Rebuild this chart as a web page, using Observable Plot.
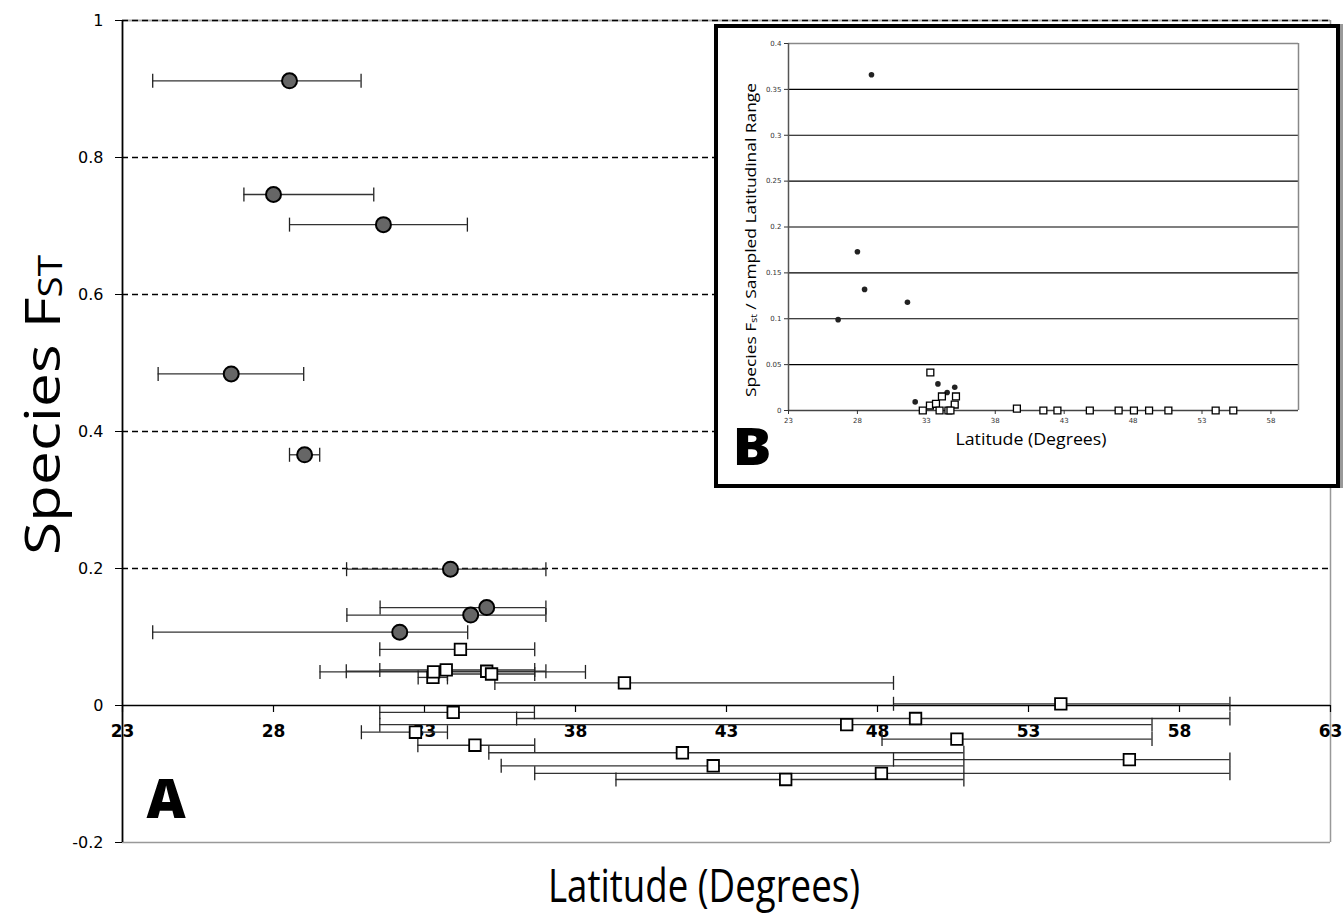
<!DOCTYPE html>
<html><head><meta charset="utf-8">
<script src="https://cdn.jsdelivr.net/npm/d3@7"></script>
<script src="https://cdn.jsdelivr.net/npm/@observablehq/plot@0.6"></script>
<style>
body{margin:0;background:#fff;}
#wrap{position:relative;width:1344px;height:918px;overflow:hidden;background:#fff;}
#main{position:absolute;left:0;top:0;}
#inset{position:absolute;left:714px;top:24px;width:626px;height:464px;box-sizing:border-box;border:4px solid #000;background:#fff;box-shadow:3px 0 0 #999;}
#inset svg{position:absolute;left:0;top:0;}
</style></head><body>
<div id="wrap"><div id="main"></div><div id="inset"></div></div>
<script>
// ---- Panel A data ----
const circleLat = [28.53, 28.0, 31.64, 26.6, 29.03, 33.86, 35.06, 34.53, 32.18];
const circleFst = [0.912, 0.746, 0.702, 0.484, 0.366, 0.199, 0.143, 0.132, 0.107];
const circleLo  = [24.0, 27.02, 28.53, 24.18, 28.53, 30.42, 31.53, 30.43, 24.0];
const circleHi  = [30.9, 31.32, 34.42, 29.0, 29.53, 37.02, 37.02, 37.02, 34.43];

const squareLat = [34.19, 33.28, 33.30, 33.72, 35.06, 35.22, 39.62, 54.07, 33.95, 49.26, 46.98, 32.70, 50.63, 34.67, 41.54, 56.34, 42.56, 48.13, 44.96];
const squareFst = [0.082, 0.041, 0.049, 0.052, 0.050, 0.046, 0.033, 0.0025, -0.010, -0.019, -0.028, -0.039, -0.049, -0.058, -0.069, -0.079, -0.088, -0.099, -0.108];
const squareLo  = [31.52, 32.79, 29.54, 31.52, 30.41, 33.76, 35.33, 48.53, 31.52, 36.05, 31.52, 30.91, 48.15, 32.78, 35.13, 48.53, 35.54, 36.65, 39.34];
const squareHi  = [36.65, 33.76, 38.33, 36.65, 37.02, 36.65, 48.53, 59.67, 36.64, 59.67, 57.09, 33.76, 57.09, 36.65, 50.86, 59.67, 50.86, 59.67, 50.86];

const mainYTicks = [-0.2, 0, 0.2, 0.4, 0.6, 0.8, 1];
const mainGridY = [0.2, 0.4, 0.6, 0.8, 1];
const mainXTicks = [23, 28, 33, 38, 43, 48, 53, 58, 63];

// ---- Panel B data ----
const insetCircleLat = [29.02, 28.0, 28.52, 31.63, 26.6, 32.19, 33.84, 34.51, 35.06];
const insetCircleVal = [0.366, 0.173, 0.132, 0.118, 0.099, 0.0094, 0.029, 0.0196, 0.0254];
const insetSquareLat = [33.29, 33.26, 33.70, 34.13, 35.06, 35.15, 32.74, 33.96, 34.6, 34.75, 39.57, 41.49, 42.51, 44.86, 46.95, 48.06, 49.16, 50.56, 53.99, 55.27];
const insetSquareVal = [0.0414, 0.0054, 0.0073, 0.0153, 0.0065, 0.0153, 0, 0, 0, 0, 0.002, 0, 0, 0, 0, 0, 0, 0, 0, 0];
const insetYTicks = [0, 0.05, 0.1, 0.15, 0.2, 0.25, 0.3, 0.35, 0.4];
const insetGridY = [0.05, 0.1, 0.15, 0.2, 0.25, 0.3, 0.35];
const insetXTicks = [23, 28, 33, 38, 43, 48, 53, 58];

// vertical line symbol for error-bar caps and ticks
const vline = {draw(ctx, size){ const r = Math.sqrt(size / Math.PI); ctx.moveTo(0, -r); ctx.lineTo(0, r); }};

const ci = circleLat.map((_, i) => i);
const si = squareLat.map((_, i) => i);

const main = Plot.plot({
  width: 1344, height: 918,
  marginLeft: 122, marginRight: 14, marginTop: 20, marginBottom: 76,
  x: {domain: [23, 63], axis: null},
  y: {domain: [-0.2, 1]},
  style: {background: "transparent", fontFamily: "DejaVu Sans", color: "#000"},
  marks: [
    Plot.ruleY([-0.2], {stroke: "#999", strokeWidth: 1.5}),
    Plot.ruleY([1], {stroke: "#aaa", strokeWidth: 2}),
    Plot.ruleX([63], {stroke: "#999", strokeWidth: 1.5}),
    Plot.ruleY(mainGridY, {stroke: "#000", strokeWidth: 1.3, strokeDasharray: "6,4"}),
    Plot.ruleY([0], {stroke: "#000", strokeWidth: 1.5}),
    Plot.ruleX([23], {stroke: "#000", strokeWidth: 1.8}),
    Plot.axisY({ticks: mainYTicks, tickSize: 7, tickPadding: 12, fontSize: 16, label: null,
      tickFormat: d => String(+d.toFixed(1))}),
    Plot.dot(mainXTicks, {x: d => d, y: 0, symbol: vline, r: 3.5, dy: 3, stroke: "#000", fill: "none", strokeWidth: 1.2}),
    Plot.text(mainXTicks, {x: d => d, y: 0, dy: 26, text: d => String(d), fontWeight: "bold", fontSize: 17, fontFamily: "DejaVu Sans"}),
    // square error bars
    Plot.ruleY(si, {y: i => squareFst[i], x1: i => squareLo[i], x2: i => squareHi[i], stroke: "#333", strokeWidth: 1.3}),
    Plot.dot(si, {x: i => squareLo[i], y: i => squareFst[i], symbol: vline, r: 7, stroke: "#222", fill: "none", strokeWidth: 1.3}),
    Plot.dot(si, {x: i => squareHi[i], y: i => squareFst[i], symbol: vline, r: 7, stroke: "#222", fill: "none", strokeWidth: 1.3}),
    // circle error bars
    Plot.ruleY(ci, {y: i => circleFst[i], x1: i => circleLo[i], x2: i => circleHi[i], stroke: "#333", strokeWidth: 1.3}),
    Plot.dot(ci, {x: i => circleLo[i], y: i => circleFst[i], symbol: vline, r: 7, stroke: "#222", fill: "none", strokeWidth: 1.3}),
    Plot.dot(ci, {x: i => circleHi[i], y: i => circleFst[i], symbol: vline, r: 7, stroke: "#222", fill: "none", strokeWidth: 1.3}),
    // points
    Plot.dot(si, {x: i => squareLat[i], y: i => squareFst[i], symbol: "square", r: 6.5, fill: "#fff", stroke: "#000", strokeWidth: 1.8}),
    Plot.dot(ci, {x: i => circleLat[i], y: i => circleFst[i], r: 7.5, fill: "#666", stroke: "#000", strokeWidth: 2})
  ]
});
document.getElementById("main").appendChild(main);

const ms = d3.select(main);
ms.append("text").attr("x", 704).attr("y", 902).attr("text-anchor", "middle")
  .attr("font-family", "Open Sans").attr("font-size", 46)
  .attr("textLength", 312).attr("lengthAdjust", "spacingAndGlyphs")
  .text("Latitude (Degrees)");
const yt = ms.append("text").attr("transform", "translate(60,405) rotate(-90)").attr("text-anchor", "middle")
  .attr("font-family", "Open Sans").attr("font-size", 50)
  .attr("textLength", 300).attr("lengthAdjust", "spacingAndGlyphs");
yt.append("tspan").text("Species F");
yt.append("tspan").attr("font-size", 32).attr("dy", 2).text("ST");
ms.append("text").attr("x", 166).attr("y", 818)
  .attr("font-family", "Open Sans").attr("font-weight", 800).attr("font-size", 54).text("A");

// ---- inset ----
const inset = Plot.plot({
  width: 618, height: 456,
  marginLeft: 70, marginRight: 38, marginTop: 15, marginBottom: 74,
  x: {domain: [23, 60]},
  y: {domain: [0, 0.4]},
  style: {background: "transparent", fontFamily: "DejaVu Sans", color: "#333"},
  marks: [
    Plot.ruleY(insetGridY, {stroke: "#000", strokeWidth: 1.2}),
    Plot.ruleY([0.4], {stroke: "#888", strokeWidth: 1.5}),
    Plot.ruleX([60], {stroke: "#888", strokeWidth: 1.5}),
    Plot.ruleX([23], {stroke: "#555", strokeWidth: 1.5}),
    Plot.ruleY([0], {stroke: "#444", strokeWidth: 1.5}),
    Plot.axisY({ticks: insetYTicks, tickSize: 4, tickPadding: 3, fontSize: 7, label: null, tickFormat: d => String(d)}),
    Plot.axisX({ticks: insetXTicks, tickSize: 4, tickPadding: 4, fontSize: 7, label: null, tickFormat: d => String(d)}),
    Plot.dot(insetCircleLat.map((_, i) => i), {x: i => insetCircleLat[i], y: i => insetCircleVal[i], r: 2.8, fill: "#222", stroke: "none"}),
    Plot.dot(insetSquareLat.map((_, i) => i), {x: i => insetSquareLat[i], y: i => insetSquareVal[i], symbol: "square", r: 3.9, fill: "#fff", stroke: "#000", strokeWidth: 1.3})
  ]
});
document.getElementById("inset").appendChild(inset);
const is = d3.select(inset);
is.append("text").attr("transform", "translate(38,212) rotate(-90)").attr("text-anchor", "middle")
  .attr("font-family", "Open Sans").attr("font-size", 15).attr("fill", "#000")
  .attr("textLength", 314).attr("lengthAdjust", "spacingAndGlyphs")
  .call(t => { t.append("tspan").text("Species F"); t.append("tspan").attr("font-size", 9).attr("dy", 1).text("st"); t.append("tspan").attr("dy", -1).text(" / Sampled Latitudinal Range"); });
is.append("text").attr("x", 313).attr("y", 417).attr("text-anchor", "middle")
  .attr("font-family", "Open Sans").attr("font-size", 16).attr("fill", "#000")
  .attr("textLength", 151).attr("lengthAdjust", "spacingAndGlyphs")
  .text("Latitude (Degrees)");
is.append("text").attr("x", 34).attr("y", 437)
  .attr("font-family", "Open Sans").attr("font-weight", 800).attr("font-size", 52).attr("fill", "#000")
  .attr("textLength", 39).attr("lengthAdjust", "spacingAndGlyphs").text("B");
</script>
</body></html>
